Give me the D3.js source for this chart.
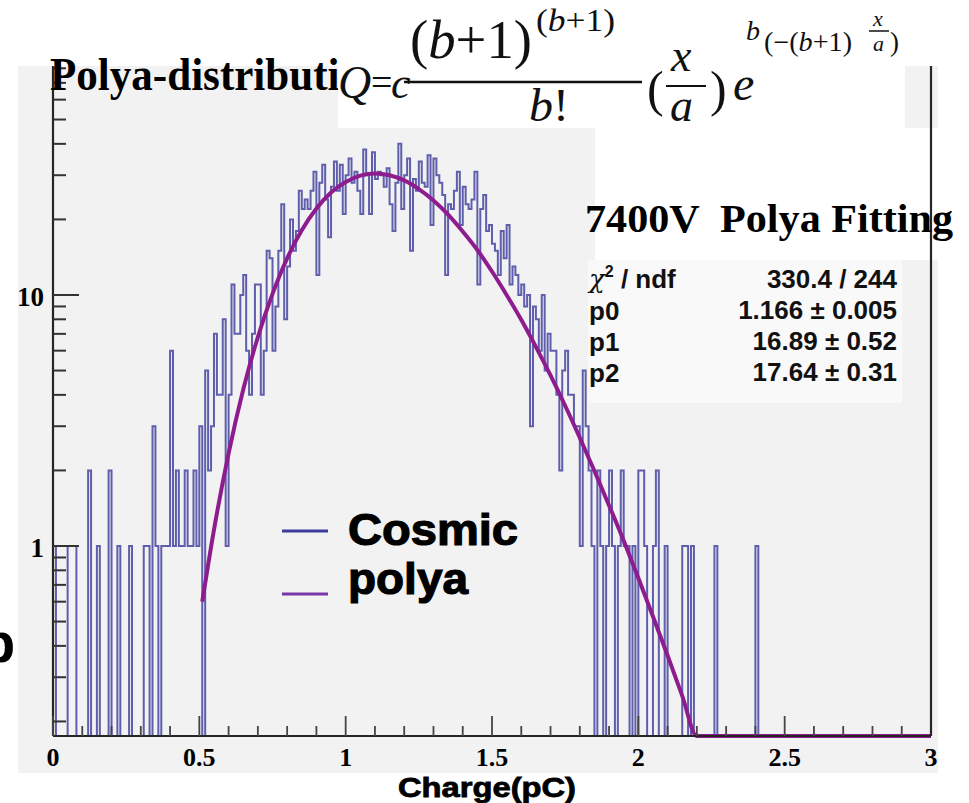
<!DOCTYPE html>
<html>
<head>
<meta charset="utf-8">
<script src="https://cdn.jsdelivr.net/npm/d3@7"></script>
<style>
  body { margin: 0; background: #fff; }
  svg { display: block; }
</style>
</head>
<body>
<svg id="chart" width="969" height="803"></svg>
<script>
// --- data ---

// histogram: 300 bins of 0.01 pC between 0 and 3
const binWidth = 0.01;
const counts = [
  1,0,0,0,0,1,1,1,0,0, 0,0,2,0,0,1,0,0,0,2, 0,0,1,0,0,0,1,0,0,0, 0,1,1,0,3,1,0,1,1,1,
  6,1,2,1,1,2,1,1,2,1,
  3,0,5,2,3,7,4,4,8,1, 4,11,7,7,10,12,6,4,7,11, 11,4,6,15,14,6,9,15,23,8,
  13,20,15,18,26,22,24,22,26,31, 12,28,33,24,17,27,34,26,33,21,
  30,35,28,31,26,21,38,30,21,37, 29,31,30,27,32,23,18,28,40,22, 30,35,15,29,26,34,28,27,36,19,
  35,30,28,25,12,23,22,26,31,19, 27,23,22,24,31,11,22,25,18,19,
  16,15,12,18,14,19,11,13,12,10, 11,9,10,3,9,8,6,10,5,7, 6,6,4,2,5,6,4,4,3,3,
  1,5,3,2,1,0,2,1,0,1, 2,1,0,1,2,1,1,0,1,0,
  2,2,1,0,0,1,2,0,0,1, 0,0,0,0,0,1,1,0,1,0, 0,0,0,0,0,0,1,0,0,0, 0,0,0,0,0,0,0,0,0,0,
  1,0,0,0,0,0,0,0,0,0, 0,0,0,0,0,0,0,0,0,0, 0,0,0,0,0,0,0,0,0,0, 0,0,0,0,0,0,0,0,0,0,
  0,0,0,0,0,0,0,0,0,0, 0,0,0,0,0,0,0,0,0,0
];

// polya fit curve
const fitX = [0.51,0.55,0.6,0.65,0.7,0.75,0.8,0.85,0.9,0.95,1.0,1.05,1.1,1.15,1.2,1.25,1.3,1.35,
              1.4,1.45,1.5,1.55,1.6,1.65,1.7,1.75,1.8,1.85,1.9,1.95,2.0,2.05,2.1,2.15,2.2,3.0];
const fitY = [0.6,1.16,2.34,4.2,6.8,10.1,14.0,18.1,22.1,25.6,28.2,29.9,30.5,30.0,28.6,26.4,23.8,20.9,
              17.9,15.1,12.4,10.0,7.96,6.21,4.78,3.62,2.7,1.99,1.45,1.05,0.745,0.524,0.366,0.253,0.175,0.175];

const xTicks = [0, 0.5, 1, 1.5, 2, 2.5, 3];
const xTickLabels = ["0", "0.5", "1", "1.5", "2", "2.5", "3"];
const yTicks = [1, 10];
const yTickLabels = ["1", "10"];
const yMinorTicks = [0.2,0.3,0.4,0.5,0.6,0.7,0.8,0.9, 2,3,4,5,6,7,8,9, 20,30,40,50,60,70,80];

const statNames = ["p0", "p1", "p2"];
const statValues = ["330.4 / 244", "1.166 \u00b1 0.005", "16.89 \u00b1 0.52", "17.64 \u00b1 0.31"];
const legendNames = ["Cosmic", "polya"];
const legendColors = ["#3d3d9c", "#7a35a6"];

// --- layout ---
const svg = d3.select("#chart");
const frame = { left: 53, right: 931, top: 66, bottom: 736 };
const yMin = 0.175, yMax = 81.7;

const x = d3.scaleLinear().domain([0, 3]).range([frame.left, frame.right]);
const y = d3.scaleLog().domain([yMin, yMax]).range([frame.bottom, frame.top]);
const yv = v => (v > yMin ? y(v) : frame.bottom);

// pad background
svg.append("rect").attr("x", 18).attr("y", 66).attr("width", 920).attr("height", 707)
  .attr("fill", "#f2f2f2");

// histogram outline
const histPts = counts.map((c, i) => [i * binWidth, c]);
histPts.push([counts.length * binWidth, counts[counts.length - 1]]);
svg.append("path")
  .attr("d", d3.line().curve(d3.curveStepAfter).x(d => x(d[0])).y(d => yv(d[1]))(histPts))
  .attr("fill", "none").attr("stroke", "#4444a0").attr("stroke-width", 2)
  .attr("stroke-opacity", 0.85);

// fit curve
svg.append("path")
  .attr("d", d3.line().curve(d3.curveMonotoneX).x(d => x(d[0])).y(d => yv(d[1]))(fitX.map((v, i) => [v, fitY[i]])))
  .attr("fill", "none").attr("stroke", "#8e1c8e").attr("stroke-width", 4);

// axes
const axisColor = "#262626";
const ax = svg.append("g");
ax.append("line").attr("x1", frame.left).attr("x2", frame.right).attr("y1", frame.bottom).attr("y2", frame.bottom)
  .attr("stroke", axisColor).attr("stroke-width", 2.2);
ax.append("line").attr("x1", frame.left).attr("x2", frame.left).attr("y1", frame.top).attr("y2", frame.bottom)
  .attr("stroke", axisColor).attr("stroke-width", 2.2);

const xMinor = d3.range(1, 30).map(d => d / 10).filter(d => !xTicks.includes(d));
ax.selectAll(".xmaj").data(xTicks).enter().append("line")
  .attr("x1", d => x(d)).attr("x2", d => x(d)).attr("y1", frame.bottom).attr("y2", frame.bottom - 20)
  .attr("stroke", "#444").attr("stroke-width", 1.8);
ax.selectAll(".xmin").data(xMinor).enter().append("line")
  .attr("x1", d => x(d)).attr("x2", d => x(d)).attr("y1", frame.bottom).attr("y2", frame.bottom - 10)
  .attr("stroke", "#444").attr("stroke-width", 1.8);
ax.selectAll(".xlab").data(xTicks).enter().append("text")
  .attr("x", d => x(d)).attr("y", 766).attr("text-anchor", "middle")
  .attr("font-family", "Liberation Serif").attr("font-weight", "bold").attr("font-size", 26)
  .text((d, i) => xTickLabels[i]);

ax.selectAll(".ymaj").data(yTicks).enter().append("line")
  .attr("x1", frame.left).attr("x2", frame.left + 26).attr("y1", d => y(d)).attr("y2", d => y(d))
  .attr("stroke", "#333").attr("stroke-width", 2);
ax.selectAll(".ymin").data(yMinorTicks).enter().append("line")
  .attr("x1", frame.left).attr("x2", frame.left + 13).attr("y1", d => y(d)).attr("y2", d => y(d))
  .attr("stroke", "#333").attr("stroke-width", 2);
ax.selectAll(".ylab").data(yTicks).enter().append("text")
  .attr("x", 44).attr("y", d => y(d) + 11).attr("text-anchor", "end")
  .attr("font-family", "Liberation Serif").attr("font-weight", "bold").attr("font-size", 27)
  .text((d, i) => yTickLabels[i]);

// x axis title
svg.append("text").attr("x", 398).attr("y", 797)
  .attr("font-family", "Liberation Sans").attr("font-weight", "bold").attr("font-size", 27)
  .attr("stroke", "#000").attr("stroke-width", 0.8)
  .attr("textLength", 178).attr("lengthAdjust", "spacingAndGlyphs")
  .text("Charge(pC)");

// partly visible text at the left edge
svg.append("text").attr("x", -19).attr("y", 662)
  .attr("font-family", "Liberation Sans").attr("font-weight", "bold").attr("font-size", 56)
  .text("p");

// legend
const leg = svg.append("g");
legendNames.forEach((name, i) => {
  const ly = 531 + i * 63;
  leg.append("line").attr("x1", 282).attr("x2", 328).attr("y1", ly).attr("y2", ly)
    .attr("stroke", legendColors[i]).attr("stroke-width", 3);
  leg.append("text").attr("x", 348).attr("y", i === 0 ? 545 : 594)
    .attr("font-family", "Liberation Sans").attr("font-weight", "bold").attr("font-size", 45)
    .attr("stroke", "#000").attr("stroke-width", 1.2)
    .attr("textLength", i === 0 ? 170 : 120).attr("lengthAdjust", "spacingAndGlyphs")
    .text(name);
});

// fit title box
svg.append("rect").attr("x", 595).attr("y", 128).attr("width", 374).attr("height", 132).attr("fill", "#fff");

// right frame line (drawn over the title box)
svg.append("line").attr("x1", frame.right).attr("x2", frame.right).attr("y1", frame.top).attr("y2", frame.bottom)
  .attr("stroke", axisColor).attr("stroke-width", 2.2);

svg.append("text").attr("x", 585).attr("y", 232)
  .attr("font-family", "Liberation Serif").attr("font-weight", "bold").attr("font-size", 40)
  .attr("textLength", 368).attr("lengthAdjust", "spacingAndGlyphs")
  .attr("xml:space", "preserve")
  .text("7400V  Polya Fitting");

// stats box
svg.append("rect").attr("x", 588).attr("y", 260).attr("width", 314).attr("height", 143).attr("fill", "#f9f9f9");
const st = svg.append("g").attr("font-family", "Liberation Sans").attr("font-size", 26)
  .attr("font-weight", "bold").attr("fill", "#111");
const chi = st.append("text").attr("x", 589).attr("y", 288);
chi.append("tspan").attr("font-weight", "normal").attr("font-style", "italic").attr("font-family", "DejaVu Serif").text("\u03c7");
chi.append("tspan").attr("font-size", 16).attr("dy", -11).text("2");
chi.append("tspan").attr("dy", 11).text(" / ndf");
statNames.forEach((n, i) => {
  st.append("text").attr("x", 589).attr("y", 320 + i * 31).text(n);
});
statValues.forEach((v, i) => {
  st.append("text").attr("x", 897).attr("y", 288 + i * 31).attr("text-anchor", "end").text(v);
});

// main title, partly hidden by the formula image
svg.append("text").attr("x", 50).attr("y", 90)
  .attr("font-family", "Liberation Serif").attr("font-weight", "bold").attr("font-size", 47)
  .attr("textLength", 335).attr("lengthAdjust", "spacingAndGlyphs")
  .text("Polya-distribution");

// formula image
const fm = svg.append("g").attr("font-family", "Liberation Serif").attr("fill", "#111");
fm.append("rect").attr("x", 338).attr("y", 0).attr("width", 567).attr("height", 128).attr("fill", "#fff");
const ftxt = (s, px, py, size, italic) => fm.append("text").attr("x", px).attr("y", py)
  .attr("font-size", size).attr("font-style", italic ? "italic" : "normal").text(s);
const group = (parts, px, py, size, len) => {
  const t = fm.append("text").attr("x", px).attr("y", py).attr("font-size", size);
  if (len) t.attr("textLength", len).attr("lengthAdjust", "spacingAndGlyphs");
  parts.forEach(p => t.append("tspan").attr("font-style", p[1] ? "italic" : "normal").text(p[0]));
  return t;
};
ftxt("Q", 338, 98, 46, true);
ftxt("=", 371, 95, 38, false);
ftxt("c", 391, 98, 44, true);
// fraction (b+1)^(b+1) / b!
group([["(", 0], ["b", 1], ["+1)", 0]], 410, 58, 54, 122);
group([["(", 0], ["b", 1], ["+1)", 0]], 536, 31, 31, 79);
fm.append("line").attr("x1", 404).attr("x2", 642).attr("y1", 82).attr("y2", 82).attr("stroke", "#111").attr("stroke-width", 2.5);
group([["b", 1], ["!", 0]], 529, 121, 46, 40);
// (x/a)^b
ftxt("(", 647, 106, 50, false);
ftxt("x", 671, 71, 46, true);
fm.append("line").attr("x1", 666).attr("x2", 706).attr("y1", 86).attr("y2", 86).attr("stroke", "#111").attr("stroke-width", 2);
ftxt("a", 670, 121, 46, true);
ftxt(")", 710, 106, 50, false);
ftxt("b", 746, 40, 28, true);
// exponential
ftxt("e", 733, 100, 48, true);
group([["(\u2212(", 0], ["b", 1], ["+1)", 0]], 764, 51, 27, 88);
ftxt("x", 873, 26, 22, true);
fm.append("line").attr("x1", 869).attr("x2", 889).attr("y1", 31).attr("y2", 31).attr("stroke", "#111").attr("stroke-width", 1.5);
ftxt("a", 873, 51, 22, true);
ftxt(")", 890, 51, 27, false);
</script>
</body>
</html>
